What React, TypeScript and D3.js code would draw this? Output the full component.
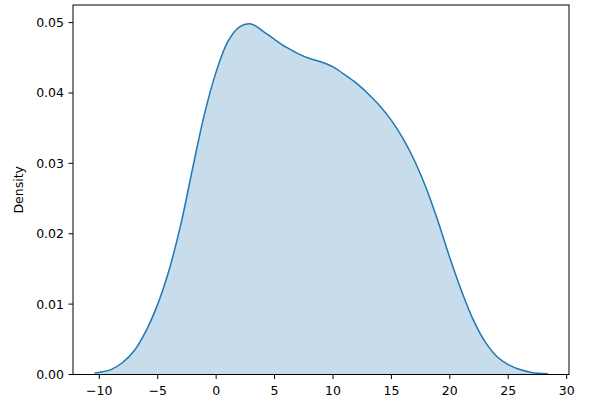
import React from "react";
import * as d3 from "d3";

const xs = [-10.4, -10, -9, -8, -7, -6, -5, -4, -3, -2, -1, 0, 1, 2, 3, 4, 5, 6, 7, 8, 9, 10, 11, 12, 13, 14, 15, 16, 17, 18, 19, 20, 21, 22, 23, 24, 25, 26, 27, 28.4];
const density = [0.0002, 0.0003, 0.0007, 0.0017, 0.0034, 0.0062, 0.0100, 0.0150, 0.0215, 0.0294, 0.0370, 0.0430, 0.0473, 0.0494, 0.0498, 0.0488, 0.0476, 0.0465, 0.0456, 0.0449, 0.0444, 0.0437, 0.0426, 0.0414, 0.0399, 0.0382, 0.0361, 0.0335, 0.0303, 0.0264, 0.0217, 0.0166, 0.0119, 0.0078, 0.0047, 0.0026, 0.0014, 0.0007, 0.0003, 0.0001];
const xTicks = [-10, -5, 0, 5, 10, 15, 20, 25, 30];
const yTicks = [0, 0.01, 0.02, 0.03, 0.04, 0.05];
const yLabel = "Density";

export default function App() {
  const W = 590, H = 408;
  const left = 73, right = 569, top = 5, bottom = 374.5;
  const x = d3.scaleLinear().domain([-12.25, 30.2]).range([left, right]);
  const y = d3.scaleLinear().domain([0, 0.0525]).range([bottom, top]);
  const pts = xs.map((v, i) => [v, density[i]] as [number, number]);
  const curve = d3.curveCatmullRom.alpha(0.5);
  const line = d3.line<[number, number]>().x(d => x(d[0])).y(d => y(d[1])).curve(curve);
  const area = d3.area<[number, number]>().x(d => x(d[0])).y0(y(0)).y1(d => y(d[1])).curve(curve);
  const font = "DejaVu Sans, sans-serif";
  return (
    <svg width={W} height={H} style={{ position: "absolute", left: 0, top: 0 }}>
      <rect x={0} y={0} width={W} height={H} fill="#fff" />
      <path d={area(pts) || ""} fill="#1f77b4" fillOpacity={0.25} />
      <path d={line(pts) || ""} fill="none" stroke="#1f77b4" strokeWidth={1.5} />
      <rect x={left} y={top} width={right - left} height={bottom - top} fill="none" stroke="#000" strokeWidth={1} />
      {xTicks.map(t => (
        <g key={"x" + t}>
          <line x1={x(t)} x2={x(t)} y1={bottom} y2={bottom + 4.5} stroke="#000" strokeWidth={1} />
          <text x={x(t)} y={bottom + 20} textAnchor="middle" fontFamily={font} fontSize={12.5} fill="#000">
            {t < 0 ? "\u2212" + Math.abs(t) : String(t)}
          </text>
        </g>
      ))}
      {yTicks.map(t => (
        <g key={"y" + t}>
          <line x1={left - 4.5} x2={left} y1={y(t)} y2={y(t)} stroke="#000" strokeWidth={1} />
          <text x={left - 9} y={y(t)} dy="0.36em" textAnchor="end" fontFamily={font} fontSize={12.5} fill="#000">
            {t.toFixed(2)}
          </text>
        </g>
      ))}
      <text transform={`translate(${23},${(top + bottom) / 2}) rotate(-90)`} textAnchor="middle" fontFamily={font} fontSize={12.5} fill="#000">
        {yLabel}
      </text>
    </svg>
  );
}
